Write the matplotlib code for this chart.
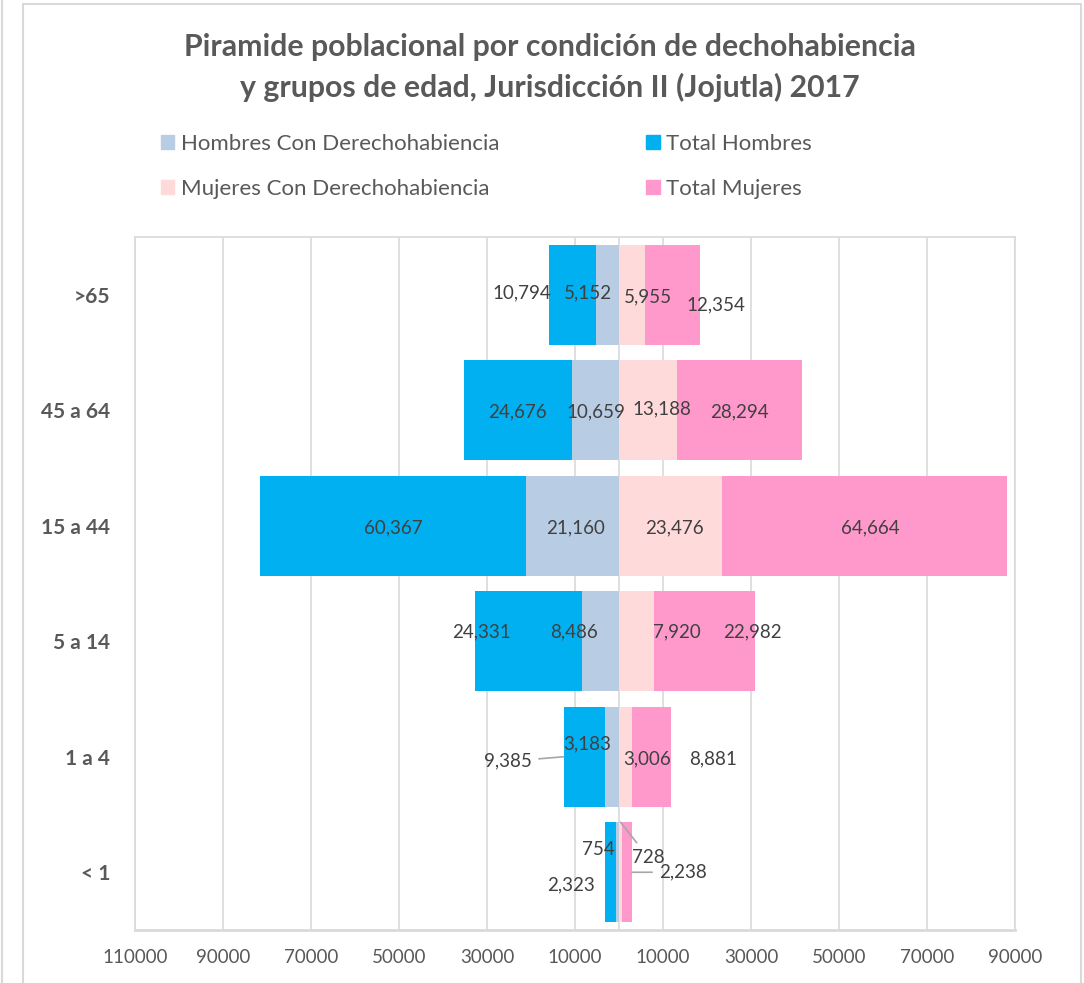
import matplotlib.pyplot as plt
import numpy as np
from matplotlib.patches import Patch, Rectangle
from matplotlib.lines import Line2D

# data (top to bottom as in the chart)
grupos = [">65", "45 a 64", "15 a 44", "5 a 14", "1 a 4", "< 1"]
hombres_dh = [5152, 10659, 21160, 8486, 3183, 754]
total_hombres = [10794, 24676, 60367, 24331, 9385, 2323]
mujeres_dh = [5955, 13188, 23476, 7920, 3006, 728]
total_mujeres = [12354, 28294, 64664, 22982, 8881, 2238]

# manual nudges of the data labels (x in people, y in category units)
nudge_th = [(-11500, -0.015), (0, 0.015), (0, 0.02), (-10490, -0.08), (-17350, 0.04), (-8990, 0.11)]
nudge_hdh = [(-4470, -0.015), (100, 0.015), (600, 0.02), (-5980, -0.08), (-5680, -0.11), (-4400, -0.2)]
nudge_mdh = [(3610, 0.02), (3180, -0.01), (900, 0.02), (9220, -0.08), (4860, 0.02), (6230, -0.13)]
nudge_tm = [(9910, 0.09), (0, 0.015), (1400, 0.02), (10820, -0.08), (13920, 0.02), (12700, 0.0)]

C_HDH = "#B8CCE4"
C_TH = "#00B0F0"
C_MDH = "#FFDADA"
C_TM = "#FF99CC"
GRAY = "#595959"
LBL = "#404040"
GRID = "#D9D9D9"

plt.rcParams["font.family"] = ["Lato", "DejaVu Sans"]

fig = plt.figure(figsize=(10.84, 9.83), dpi=100)
ax = fig.add_axes([135 / 1084, 1 - 930 / 983, 880 / 1084, 693 / 983])

y = np.arange(len(grupos))
hdh = np.array(hombres_dh)
th = np.array(total_hombres)
mdh = np.array(mujeres_dh)
tm = np.array(total_mujeres)
h = 0.866

ax.barh(y, -hdh, height=h, color=C_HDH, zorder=2)
ax.barh(y, -th, left=-hdh, height=h, color=C_TH, zorder=2)
ax.barh(y, mdh, height=h, color=C_MDH, zorder=2)
ax.barh(y, tm, left=mdh, height=h, color=C_TM, zorder=2)

ax.set_xlim(-110000, 90000)
ax.set_ylim(-0.5, len(grupos) - 0.5)
ax.invert_yaxis()
ticks = np.arange(-110000, 90001, 20000)
ax.set_xticks(ticks)
ax.set_xticklabels([str(abs(t)) for t in ticks], color=GRAY, fontsize=13.5)
ax.set_yticks(y)
ax.set_yticklabels(grupos, color=GRAY, fontsize=15, fontweight="bold")
ax.tick_params(axis="x", length=0, pad=14)
ax.tick_params(axis="y", length=0, pad=18)
ax.grid(axis="x", color=GRID, lw=1.2, zorder=0)
ax.axvline(0, color=GRID, lw=1.2, zorder=1)
for s in ax.spines.values():
    s.set_color(GRID)
    s.set_linewidth(1.2)
ax.spines["bottom"].set_linewidth(2)

fs = 13.5
arrow = dict(arrowstyle="-", color="#A6A6A6", lw=1.2, shrinkA=3, shrinkB=0)
for i in range(len(grupos)):
    cx = -hdh[i] / 2
    ax.text(cx + nudge_hdh[i][0], i + nudge_hdh[i][1], f"{hdh[i]:,}", ha="center", va="center", color=LBL, fontsize=fs, zorder=3)
    cx = -hdh[i] - th[i] / 2
    if i == 4:
        ax.annotate(f"{th[i]:,}", xy=(-hdh[i] - th[i], i), xytext=(cx + nudge_th[i][0], i + nudge_th[i][1]),
                    ha="center", va="center", color=LBL, fontsize=fs, zorder=3, arrowprops=arrow)
    else:
        ax.text(cx + nudge_th[i][0], i + nudge_th[i][1], f"{th[i]:,}", ha="center", va="center", color=LBL, fontsize=fs, zorder=3)
    cx = mdh[i] / 2
    if i == 5:
        ax.annotate(f"{mdh[i]:,}", xy=(cx, i - h / 2), xytext=(cx + nudge_mdh[i][0], i + nudge_mdh[i][1]),
                    ha="center", va="center", color=LBL, fontsize=fs, zorder=3, arrowprops=arrow)
    else:
        ax.text(cx + nudge_mdh[i][0], i + nudge_mdh[i][1], f"{mdh[i]:,}", ha="center", va="center", color=LBL, fontsize=fs, zorder=3)
    cx = mdh[i] + tm[i] / 2
    if i == 5:
        ax.annotate(f"{tm[i]:,}", xy=(mdh[i] + tm[i], i), xytext=(cx + nudge_tm[i][0], i + nudge_tm[i][1]),
                    ha="center", va="center", color=LBL, fontsize=fs, zorder=3, arrowprops=arrow)
    else:
        ax.text(cx + nudge_tm[i][0], i + nudge_tm[i][1], f"{tm[i]:,}", ha="center", va="center", color=LBL, fontsize=fs, zorder=3)

fig.text(550 / 1084, 1 - 47 / 983, "Piramide poblacional por condición de dechohabiencia",
         ha="center", va="center", fontsize=21.8, fontweight="bold", color=GRAY)
fig.text(550 / 1084, 1 - 87 / 983, "y grupos de edad, Jurisdicción II (Jojutla) 2017",
         ha="center", va="center", fontsize=21.8, fontweight="bold", color=GRAY)

handles = [Patch(color=C_HDH), Patch(color=C_MDH), Patch(color=C_TH), Patch(color=C_TM)]
labels = ["Hombres Con Derechohabiencia", "Mujeres Con Derechohabiencia", "Total Hombres", "Total Mujeres"]
fig.legend(handles, labels, ncol=2, frameon=False, loc="upper left",
           bbox_to_anchor=(141 / 1084, 1 - 114 / 983), fontsize=16, labelcolor=GRAY,
           handlelength=0.6, handleheight=0.6, handletextpad=0.3, columnspacing=6.6, labelspacing=1.13)

# chart border
fig.add_artist(Rectangle((23 / 1084, -0.01), 1058 / 1084, 1 - 4 / 983 + 0.01, transform=fig.transFigure,
                         fill=False, edgecolor=GRID, lw=1.5))
fig.add_artist(Line2D([1.5 / 1084, 1.5 / 1084], [0, 1], transform=fig.transFigure, color=GRID, lw=1.5))

fig.savefig("out.png", dpi=100)
